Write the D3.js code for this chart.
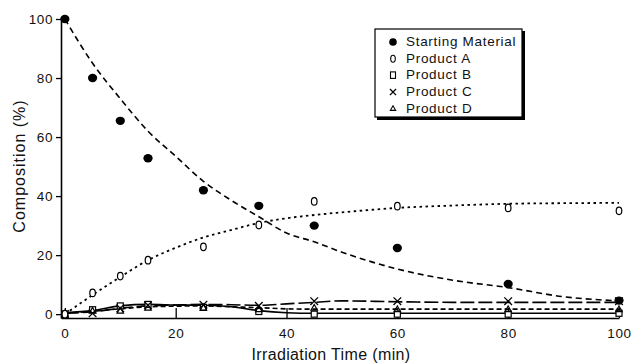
<!DOCTYPE html>
<html>
<head>
<meta charset="utf-8">
<script src="https://cdn.jsdelivr.net/npm/d3@7"></script>
<style>
   body { margin: 0; background: #fff; }
   svg { display: block; font-family: "Liberation Sans", Arial, sans-serif; }
</style>
</head>
<body>
<div id="chart"></div>
<script>
// measured points
const times = [0, 5, 10, 15, 25, 35, 45, 60, 80, 100];
const startingMaterial = [100, 80, 65.5, 52.8, 42, 36.7, 30, 22.4, 10.2, 4.6];
const productA = [0, 7.2, 12.9, 18.3, 22.8, 30.2, 38.2, 36.6, 36, 35];
const productB = [0, 1.5, 2.8, 3.3, 2.3, 0.9, 0, 0, 0, 0.3];
const productC = [0, 0.3, 2, 3, 3.2, 2.8, 4.4, 4.4, 4.4, 4.4];
const productD = [0, 1, 1, 2, 2, 1.5, 2, 1.5, 1.5, 1.5];

// fitted curves
const fitTimes = [0, 5, 10, 15, 20, 25, 30, 35, 40, 45, 50, 60, 70, 80, 90, 100];
const fitSM = [100, 85, 73, 62, 53.5, 45, 38.6, 33, 27.5, 24.5, 21, 15.3, 11.5, 9, 5.9, 4.5];
const fitA = [0, 6.5, 12.6, 18.3, 22.5, 26, 28.5, 30.9, 32.5, 33.6, 34.5, 36, 36.8, 37.4, 37.6, 37.7];
const fitB = [0.5, 1.2, 2.8, 3.3, 3.1, 3, 2.5, 1.2, 0.5, 0.3, 0.3, 0.3, 0.3, 0.3, 0.3, 0.3];
const fitC = [0.3, 0.8, 2, 2.8, 3.1, 3.3, 3.2, 3, 3.5, 4, 4.5, 4.2, 4, 4, 4, 4];
const fitD = [0.3, 1, 1.8, 2.5, 2.7, 2.8, 2.5, 2.2, 1.8, 1.7, 1.7, 1.7, 1.7, 1.7, 1.7, 1.7];

const legendLabels = ["Starting Material", "Product A", "Product B", "Product C", "Product D"];
const xTicks = [0, 20, 40, 60, 80, 100];
const yTicks = [0, 20, 40, 60, 80, 100];

const width = 631;
const height = 364;

const x = d3.scaleLinear().domain([-0.7, 100]).range([61, 619]);
const y = d3.scaleLinear().domain([-1.3, 100]).range([318, 19]);

const svg = d3.select("#chart").append("svg")
   .attr("width", width)
   .attr("height", height)
   .attr("viewBox", [0, 0, width, height]);

// axes
svg.append("g")
   .attr("transform", `translate(0,${y(-1.3)})`)
   .style("font-size", "13.5px")
   .style("letter-spacing", "0.6px")
   .call(d3.axisBottom(x).tickValues(xTicks).tickSizeInner(-10).tickSizeOuter(0).tickPadding(10))
   .call(g => g.select(".domain").attr("stroke-width", 1.6))
   .call(g => g.selectAll(".tick line").attr("stroke-width", 1.3))
   .call(g => g.selectAll(".tick text").attr("fill", "#111"));

svg.append("g")
   .attr("transform", `translate(${x(-0.7)},0)`)
   .style("font-size", "13.5px")
   .style("letter-spacing", "0.6px")
   .call(d3.axisLeft(y).tickValues(yTicks).tickSizeInner(5).tickSizeOuter(0).tickPadding(3))
   .call(g => g.select(".domain").attr("stroke-width", 1.6))
   .call(g => g.selectAll(".tick line").attr("stroke-width", 1.3))
   .call(g => g.selectAll(".tick text").attr("fill", "#111"));

svg.append("text")
   .attr("x", 331)
   .attr("y", 360)
   .attr("text-anchor", "middle")
   .style("font-size", "16px")
   .style("letter-spacing", "0.36px")
   .attr("fill", "#111")
   .text("Irradiation Time (min)");

svg.append("text")
   .attr("transform", "translate(25,166) rotate(-90)")
   .attr("text-anchor", "middle")
   .style("font-size", "16px")
   .style("letter-spacing", "1px")
   .attr("fill", "#111")
   .text("Composition (%)");

// fitted lines
const line = d3.line()
   .x((d, i) => x(fitTimes[i]))
   .y(d => y(d))
   .curve(d3.curveMonotoneX);

const fits = [
   { values: fitB, dash: null, w: 1.6 },
   { values: fitD, dash: "5,3", w: 1.6 },
   { values: fitC, dash: "14,4", w: 1.6 },
   { values: fitA, dash: "2.5,3.5", w: 1.8 },
   { values: fitSM, dash: "6,4", w: 1.6 }
];

svg.append("g")
   .attr("fill", "none")
   .attr("stroke", "#000")
   .selectAll("path")
   .data(fits)
   .join("path")
   .attr("stroke-width", d => d.w)
   .attr("stroke-dasharray", d => d.dash)
   .attr("d", d => line(d.values));

// markers
const pts = (vals) => vals.map((v, i) => [x(times[i]), y(v)]);

const marks = svg.append("g");

marks.selectAll(".sq")
   .data(pts(productB))
   .join("rect")
   .attr("x", d => d[0] - 3)
   .attr("y", d => d[1] - 3)
   .attr("width", 6)
   .attr("height", 6)
   .attr("fill", "#fff")
   .attr("stroke", "#000")
   .attr("stroke-width", 1.2);

const tri = d3.symbol().type(d3.symbolTriangle2).size(30);
marks.selectAll(".tri")
   .data(pts(productD))
   .join("path")
   .attr("transform", d => `translate(${d[0]},${d[1]})`)
   .attr("d", tri)
   .attr("fill", "none")
   .attr("stroke", "#000")
   .attr("stroke-width", 1.2);

const times_ = d3.symbol().type(d3.symbolTimes).size(40);
marks.selectAll(".x")
   .data(pts(productC))
   .join("path")
   .attr("transform", d => `translate(${d[0]},${d[1]})`)
   .attr("d", times_)
   .attr("fill", "none")
   .attr("stroke", "#000")
   .attr("stroke-width", 1.3);

marks.selectAll(".open")
   .data(pts(productA))
   .join("ellipse")
   .attr("cx", d => d[0])
   .attr("cy", d => d[1])
   .attr("rx", 2.8)
   .attr("ry", 3.8)
   .attr("fill", "#fff")
   .attr("stroke", "#000")
   .attr("stroke-width", 1.2);

marks.selectAll(".filled")
   .data(pts(startingMaterial))
   .join("ellipse")
   .attr("cx", d => d[0])
   .attr("cy", d => d[1])
   .attr("rx", 4.6)
   .attr("ry", 4.2)
   .attr("fill", "#000");

// legend
const legend = svg.append("g").attr("transform", "translate(375,29)");
legend.append("rect")
   .attr("x", 2).attr("y", 2)
   .attr("width", 148).attr("height", 89)
   .attr("fill", "#000");
legend.append("rect")
   .attr("width", 147).attr("height", 88)
   .attr("fill", "#fff")
   .attr("stroke", "#000")
   .attr("stroke-width", 1.2);

const rowY = i => 12 + i * 16.7;
const sx = 18;

legend.selectAll("text")
   .data(legendLabels)
   .join("text")
   .attr("x", 31)
   .attr("y", (d, i) => rowY(i))
   .attr("dy", "0.36em")
   .style("font-size", "13.5px")
   .style("letter-spacing", "0.7px")
   .attr("fill", "#111")
   .text(d => d);

legend.append("ellipse").attr("cx", sx).attr("cy", rowY(0) + 1).attr("rx", 3.8).attr("ry", 3.8).attr("fill", "#000");
legend.append("ellipse").attr("cx", sx).attr("cy", rowY(1) + 1).attr("rx", 2.3).attr("ry", 3.5)
   .attr("fill", "none").attr("stroke", "#000").attr("stroke-width", 1.1);
legend.append("rect").attr("x", sx - 2.5).attr("y", rowY(2) - 2.5).attr("width", 5).attr("height", 6.5)
   .attr("fill", "none").attr("stroke", "#000").attr("stroke-width", 1.1);
legend.append("path").attr("transform", `translate(${sx},${rowY(3) + 1})`).attr("d", d3.symbol().type(d3.symbolTimes).size(26))
   .attr("fill", "none").attr("stroke", "#000").attr("stroke-width", 1.3);
legend.append("path").attr("transform", `translate(${sx},${rowY(4) + 1})`).attr("d", d3.symbol().type(d3.symbolTriangle2).size(20))
   .attr("fill", "none").attr("stroke", "#000").attr("stroke-width", 1.1);
</script>
</body>
</html>
